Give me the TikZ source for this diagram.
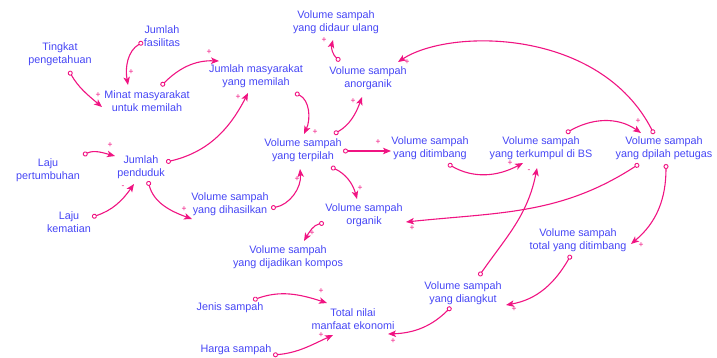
\documentclass[tikz,border=0pt]{standalone}
\usepackage{fontspec}
\setmainfont{Liberation Sans}
\usetikzlibrary{arrows.meta}
\definecolor{txtblue}{RGB}{70,70,245}
\definecolor{lnkpink}{RGB}{240,20,130}
\begin{document}
\begin{tikzpicture}[x=1pt,y=1pt,
  lbl/.style={text=txtblue, align=center, font=\fontsize{10.8}{12.7}\selectfont, inner sep=0pt},
  lnk/.style={draw=lnkpink, line width=1.1pt, arrows={{Circle[open,length=5pt,width=5pt,line width=0.9pt]}-{Stealth[length=8pt,width=6.5pt,inset=2pt]}}},
  pol/.style={text=lnkpink, font=\fontsize{8.5}{8.5}\selectfont, inner sep=0pt}]
\useasboundingbox (0,0) rectangle (717,-357);

% text nodes
\node[lbl] (fas) at (162,-36) {Jumlah\\fasilitas};
\node[lbl] (ting) at (60,-54) {Tingkat\\pengetahuan};
\node[lbl] (minat) at (147,-101) {Minat masyarakat\\untuk memilah};
\node[lbl] (jmm) at (256,-76) {Jumlah masyarakat\\yang memilah};
\node[lbl] (daur) at (336,-22) {Volume sampah\\yang didaur ulang};
\node[lbl] (anorg) at (368,-78) {Volume sampah\\anorganik};
\node[lbl] (terp) at (303,-150) {Volume sampah\\yang terpilah};
\node[lbl] (timb) at (430,-148) {Volume sampah\\yang ditimbang};
\node[lbl] (bs) at (541,-148) {Volume sampah\\yang terkumpul di BS};
\node[lbl] (pet) at (664,-148) {Volume sampah\\yang dpilah petugas};
\node[lbl] (lp) at (48,-170) {Laju\\pertumbuhan};
\node[lbl] (pend) at (141,-167) {Jumlah\\penduduk};
\node[lbl] (lk) at (69,-222) {Laju\\kematian};
\node[lbl] (hasil) at (230,-204) {Volume sampah\\yang dihasilkan};
\node[lbl] (org) at (364,-215) {Volume sampah\\organik};
\node[lbl] (komp) at (288,-257) {Volume sampah\\yang dijadikan kompos};
\node[lbl] (tot) at (578,-240) {Volume sampah\\total yang ditimbang};
\node[lbl] (angk) at (463,-293) {Volume sampah\\yang diangkut};
\node[lbl] (jen) at (230,-308) {Jenis sampah};
\node[lbl] (nilai) at (353,-319) {Total nilai\\manfaat ekonomi};
\node[lbl] (harga) at (236,-350) {Harga sampah};

% connector end points
\coordinate (fasO) at (143,-42);   \coordinate (minatI1) at (128,-85);
\coordinate (tingO) at (69,-71);   \coordinate (minatI2) at (102,-107);
\coordinate (minatO) at (161,-86); \coordinate (jmmI1) at (219,-61);
\coordinate (pendO1) at (166,-162); \coordinate (jmmI2) at (248,-93);
\coordinate (jmmO) at (295,-93);   \coordinate (terpI1) at (304,-134);
\coordinate (terpO1) at (334,-134); \coordinate (anorgI1) at (362,-97);
\coordinate (anorgO) at (340,-61); \coordinate (daurI) at (333,-40);
\coordinate (terpO2) at (343,-151); \coordinate (timbI) at (391,-151);
\coordinate (terpO3) at (331,-167); \coordinate (orgI1) at (357,-199);
\coordinate (hasilO) at (271,-208); \coordinate (terpI2) at (300,-169);
\coordinate (orgO) at (324,-223);  \coordinate (kompI) at (304,-241);
\coordinate (timbO) at (448,-164); \coordinate (bsI1) at (523,-163);
\coordinate (angkO1) at (479,-276); \coordinate (bsI2) at (537,-168);
\coordinate (bsO) at (566,-133);   \coordinate (petI) at (641,-133);
\coordinate (petO1) at (654,-134); \coordinate (anorgI2) at (398,-62);
\coordinate (petO2) at (639,-164); \coordinate (orgI2) at (406,-222);
\coordinate (petO3) at (666,-164); \coordinate (totI) at (631,-244);
\coordinate (totO) at (571,-255);  \coordinate (angkI) at (506,-305);
\coordinate (angkO2) at (451,-307); \coordinate (nilaiI1) at (388,-334);
\coordinate (jenO) at (253,-300);  \coordinate (nilaiI2) at (327,-303);
\coordinate (hargaO) at (273,-355); \coordinate (nilaiI3) at (333,-335);
\coordinate (lpO) at (83,-155);    \coordinate (pendI1) at (115,-156);
\coordinate (lkO) at (92,-217);    \coordinate (pendI2) at (134,-184);
\coordinate (pendO2) at (148,-181); \coordinate (hasilI) at (192,-219);

% connectors
\draw[lnk] (fasO) to[out=210,in=100] (minatI1);
\draw[lnk] (tingO) to[out=-60,in=140] (minatI2);
\draw[lnk] (minatO) to[out=45,in=178] (jmmI1);
\draw[lnk] (pendO1) to[out=13,in=243] (jmmI2);
\draw[lnk] (jmmO) to[out=-25,in=65] (terpI1);
\draw[lnk] (terpO1) to[out=30,in=250] (anorgI1);
\draw[lnk] (anorgO) to[out=140,in=255] (daurI);
\draw[lnk] (terpO2) -- (timbI);
\draw[lnk] (terpO3) to[out=-25,in=105] (orgI1);
\draw[lnk] (hasilO) to[out=10,in=-85] (terpI2);
\draw[lnk] (orgO) to[out=190,in=60] (kompI);
\draw[lnk] (timbO) to[out=-30,in=208] (bsI1);
\draw[lnk] (angkO1) to[out=55,in=-101] (bsI2);
\draw[lnk] (bsO) to[out=30,in=145] (petI);
\draw[lnk] (petO1) .. controls (600,-28) and (450,-28) .. (anorgI2);
\draw[lnk] (petO2) to[out=213,in=6] (orgI2);
\draw[lnk] (petO3) to[out=-90,in=40] (totI);
\draw[lnk] (totO) to[out=240,in=10] (angkI);
\draw[lnk] (angkO2) to[out=225,in=2] (nilaiI1);
\draw[lnk] (jenO) to[out=20,in=162] (nilaiI2);
\draw[lnk] (hargaO) to[out=5,in=205] (nilaiI3);
\draw[lnk] (lpO) to[out=25,in=165] (pendI1);
\draw[lnk] (lkO) to[out=18,in=235] (pendI2);
\draw[lnk] (pendO2) to[out=-75,in=160] (hasilI);

% polarities
\node[pol] (p1) at (131,-72) {+};
\node[pol] (p2) at (98,-95) {+};
\node[pol] (p3) at (209,-52) {+};
\node[pol] (p4) at (238,-97) {+};
\node[pol] (p5) at (315,-132) {+};
\node[pol] (p6) at (353,-101) {+};
\node[pol] (p7) at (324,-40) {+};
\node[pol] (p8) at (378,-142) {+};
\node[pol] (p9) at (360,-188) {+};
\node[pol] (p10) at (297,-179) {+};
\node[pol] (p11) at (312,-233) {+};
\node[pol] (p12) at (510,-163) {+};
\node[pol] (p13) at (529,-171) {-};
\node[pol] (p14) at (638,-121) {+};
\node[pol] (p15) at (407,-62) {+};
\node[pol] (p16) at (412,-228) {+};
\node[pol] (p17) at (641,-245) {+};
\node[pol] (p18) at (514,-309) {+};
\node[pol] (p19) at (393,-341) {+};
\node[pol] (p20) at (321,-291) {+};
\node[pol] (p21) at (321,-335) {+};
\node[pol] (p22) at (110,-145) {+};
\node[pol] (p23) at (123,-187) {-};
\node[pol] (p24) at (184,-209) {+};
\end{tikzpicture}
\end{document}
